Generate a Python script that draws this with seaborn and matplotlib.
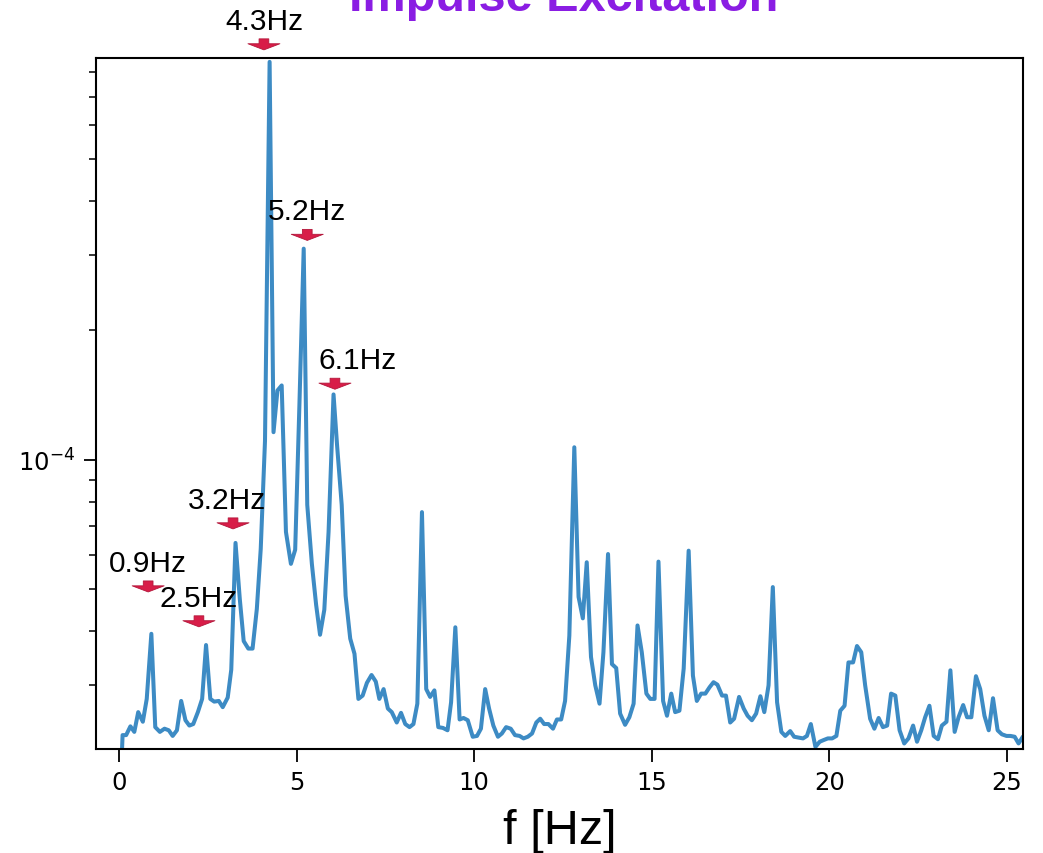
import numpy as np
import pandas as pd
import seaborn as sns
import matplotlib.pyplot as plt
from matplotlib.ticker import NullFormatter, LogLocator

# spectrum (frequency in Hz, amplitude in units of 1e-5)
freq = [0.05, 0.10, 0.20, 0.32, 0.43, 0.54, 0.67, 0.78, 0.91, 1.02,
        1.15, 1.28, 1.40, 1.51, 1.63, 1.75, 1.87, 1.98, 2.09, 2.22,
        2.34, 2.45, 2.57, 2.68, 2.81, 2.92, 3.06, 3.16, 3.28, 3.40,
        3.51, 3.64, 3.76, 3.88, 3.99, 4.11, 4.24, 4.35, 4.46, 4.58,
        4.70, 4.84, 4.96, 5.08, 5.20, 5.30, 5.43, 5.55, 5.66, 5.78,
        5.90, 6.04, 6.14, 6.27, 6.38, 6.51, 6.63, 6.74, 6.86, 6.98,
        7.11, 7.23, 7.33, 7.45, 7.57, 7.68, 7.82, 7.94, 8.06, 8.18,
        8.29, 8.40, 8.53, 8.65, 8.76, 8.88, 8.99, 9.12, 9.25, 9.35,
        9.47, 9.59, 9.70, 9.82, 9.96, 10.08, 10.19, 10.31, 10.42, 10.54,
        10.67, 10.78, 10.90, 11.03, 11.15, 11.28, 11.39, 11.51, 11.63, 11.75,
        11.86, 11.97, 12.09, 12.22, 12.33, 12.45, 12.56, 12.68, 12.82, 12.94,
        13.06, 13.17, 13.29, 13.41, 13.53, 13.64, 13.77, 13.88, 14.00, 14.11,
        14.25, 14.37, 14.49, 14.60, 14.72, 14.85, 14.96, 15.08, 15.19, 15.32,
        15.43, 15.55, 15.66, 15.78, 15.90, 16.04, 16.16, 16.27, 16.39, 16.51,
        16.63, 16.74, 16.85, 16.98, 17.09, 17.21, 17.32, 17.46, 17.59, 17.70,
        17.82, 17.94, 18.06, 18.17, 18.29, 18.41, 18.53, 18.65, 18.76, 18.90,
        19.01, 19.14, 19.26, 19.37, 19.48, 19.61, 19.73, 19.84, 19.96, 20.08,
        20.20, 20.31, 20.43, 20.54, 20.67, 20.78, 20.90, 21.01, 21.15, 21.27,
        21.39, 21.51, 21.63, 21.74, 21.86, 21.98, 22.11, 22.23, 22.36, 22.47,
        22.59, 22.70, 22.82, 22.94, 23.06, 23.17, 23.30, 23.41, 23.53, 23.64,
        23.77, 23.88, 24.00, 24.13, 24.25, 24.37, 24.49, 24.61, 24.74, 24.86,
        24.99, 25.10, 25.22, 25.33, 25.45, 25.56]
amp = [1.80, 2.29, 2.29, 2.40, 2.33, 2.59, 2.46, 2.78, 3.94, 2.39,
       2.33, 2.37, 2.35, 2.28, 2.35, 2.75, 2.48, 2.41, 2.43, 2.59,
       2.78, 3.71, 2.78, 2.74, 2.75, 2.66, 2.80, 3.25, 6.41, 4.75,
       3.79, 3.64, 3.64, 4.50, 6.21, 11.07, 84.3, 11.6, 14.5, 14.9,
       6.80, 5.73, 6.18, 13.5, 31.0, 7.86, 5.73, 4.60, 3.92, 4.48,
       6.80, 14.2, 10.8, 7.86, 4.83, 3.84, 3.54, 2.78, 2.83, 3.03,
       3.16, 3.05, 2.78, 2.93, 2.64, 2.59, 2.45, 2.58, 2.43, 2.39,
       2.43, 2.71, 7.56, 2.93, 2.81, 2.91, 2.39, 2.38, 2.35, 2.73,
       4.08, 2.49, 2.51, 2.48, 2.27, 2.28, 2.37, 2.93, 2.64, 2.41,
       2.27, 2.31, 2.39, 2.37, 2.29, 2.28, 2.25, 2.27, 2.31, 2.45,
       2.50, 2.43, 2.43, 2.37, 2.49, 2.49, 2.75, 3.90, 10.7, 4.80,
       4.28, 5.78, 3.48, 2.99, 2.71, 3.57, 6.04, 3.35, 3.28, 2.57,
       2.42, 2.52, 2.71, 4.12, 3.57, 2.86, 2.78, 2.78, 5.80, 2.75,
       2.54, 2.86, 2.59, 2.61, 3.27, 6.15, 3.15, 2.75, 2.86, 2.86,
       2.96, 3.04, 3.00, 2.83, 2.83, 2.45, 2.50, 2.81, 2.64, 2.54,
       2.48, 2.57, 2.82, 2.59, 2.99, 5.06, 2.73, 2.33, 2.28, 2.34,
       2.27, 2.26, 2.25, 2.28, 2.43, 2.15, 2.21, 2.23, 2.25, 2.25,
       2.28, 2.61, 2.68, 3.38, 3.38, 3.69, 3.57, 2.99, 2.50, 2.37,
       2.51, 2.39, 2.41, 2.86, 2.83, 2.35, 2.19, 2.25, 2.41, 2.21,
       2.35, 2.52, 2.68, 2.28, 2.24, 2.41, 2.46, 3.24, 2.33, 2.52,
       2.69, 2.52, 2.52, 3.14, 2.93, 2.54, 2.35, 2.79, 2.35, 2.30,
       2.28, 2.28, 2.27, 2.19, 2.27, 2.30]

# peak markers
peak_labels = ["0.9Hz", "2.5Hz", "3.2Hz", "4.3Hz", "5.2Hz", "6.1Hz"]
arrow_freq = [0.82, 2.25, 3.21, 4.08, 5.30, 6.08]
arrow_tip = [4.93e-5, 4.09e-5, 6.91e-5, 8.99e-4, 3.24e-4, 1.46e-4]
label_dx = [0, 0, -6, 1, 0, 23]  # pixel shift of each label

df = pd.DataFrame({"f": freq, "amp": np.array(amp) * 1e-5})

sns.set_style("ticks")
fig = plt.figure(figsize=(10.43, 8.54), dpi=100)
ax = fig.add_axes([0.092, 0.122, 0.889, 0.809])

sns.lineplot(data=df, x="f", y="amp", ax=ax, color="#3d8bc4",
             linewidth=2.9, estimator=None, sort=False)

ax.set_yscale("log")
ax.set_xlim(-0.65, 25.46)
ax.set_ylim(2.128e-5, 8.61e-4)
ax.set_xticks([0, 5, 10, 15, 20, 25])
ax.yaxis.set_major_locator(LogLocator(base=10))
ax.yaxis.set_minor_locator(LogLocator(base=10, subs=np.arange(2, 10)))
ax.yaxis.set_minor_formatter(NullFormatter())
ax.set_ylabel("")
ax.set_xlabel("f [Hz]", fontsize=35, family="Liberation Sans", labelpad=10,
              color="black")

ax.tick_params(axis="both", which="major", labelsize=17.5, length=9,
               width=1.3, pad=6, color="black", labelcolor="black")
ax.tick_params(axis="y", which="minor", length=5, width=1.1, color="black")
for sp in ax.spines.values():
    sp.set_linewidth(1.5)
    sp.set_color("black")

for lab, fx, tip, dx in zip(peak_labels, arrow_freq, arrow_tip, label_dx):
    ax.annotate("", xy=(fx, tip), xytext=(0, 11), textcoords="offset pixels",
                annotation_clip=False,
                arrowprops=dict(width=7, headwidth=23, headlength=4.4,
                                shrink=0.0, facecolor="#d81d48",
                                edgecolor="#b3163a", linewidth=0.6))
    ax.annotate(lab, xy=(fx, tip), xytext=(dx, 21), textcoords="offset pixels",
                ha="center", va="baseline", fontsize=21.5,
                family="Liberation Sans", color="black",
                annotation_clip=False)

# title sits partly above the top edge, as in the source image
fig.text(0.54, 1 - 11 / 854, "Impulse Excitation", ha="center",
         va="baseline", fontsize=35, fontweight="bold",
         family="Liberation Sans", color="#8a1de3")

fig.savefig("out.png", dpi=100)
